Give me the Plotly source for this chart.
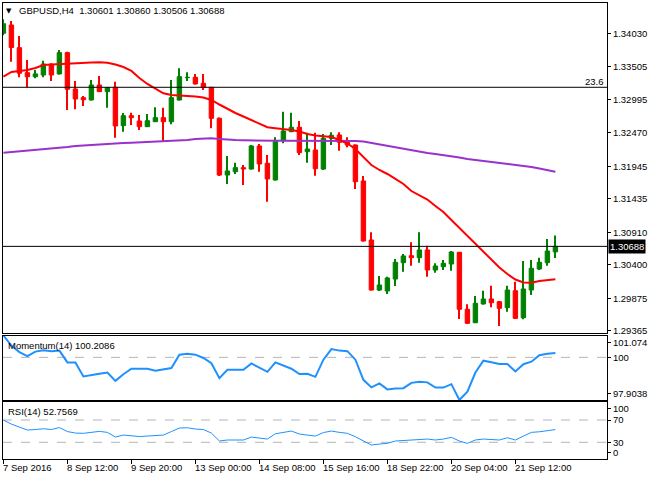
import plotly.graph_objects as go

# ---------------- data ----------------
OPEN = [1.34030, 1.34160, 1.33804, 1.33412, 1.33349, 1.33376, 1.33544, 1.33392, 1.33726, 1.33156,
        1.33020, 1.32984, 1.33219, 1.33114, 1.33183, 1.32581, 1.32737, 1.32654, 1.32565, 1.32643,
        1.32706, 1.32643, 1.32984, 1.33334, 1.33340, 1.33246, 1.33183, 1.32697, 1.31807, 1.31859,
        1.31922, 1.31901, 1.32262, 1.31991, 1.31729, 1.32356, 1.32486, 1.32556, 1.32173, 1.32199,
        1.31901, 1.32383, 1.32435, 1.32320, 1.32278, 1.31713, 1.30788, 1.30003, 1.29988, 1.30176,
        1.30432, 1.30541, 1.30510, 1.30631, 1.30317, 1.30369, 1.30411, 1.30595, 1.29701, 1.29490,
        1.29784, 1.29862, 1.29820, 1.29726, 1.29992, 1.29569, 1.30003, 1.30333, 1.30432, 1.30601]
HIGH = [1.34250, 1.34223, 1.33988, 1.33611, 1.33454, 1.33600, 1.33559, 1.33768, 1.33741, 1.33282,
        1.33046, 1.33297, 1.33360, 1.33183, 1.33271, 1.32780, 1.32785, 1.32748, 1.32764, 1.32869,
        1.32863, 1.33297, 1.33481, 1.33418, 1.33392, 1.33392, 1.33188, 1.32709, 1.32105, 1.32000,
        1.31964, 1.32278, 1.32294, 1.32121, 1.32399, 1.32800, 1.32785, 1.32654, 1.32471, 1.32471,
        1.32450, 1.32477, 1.32477, 1.32399, 1.32286, 1.31792, 1.30908, 1.30223, 1.30212, 1.30490,
        1.30568, 1.30752, 1.30908, 1.30698, 1.30422, 1.30474, 1.30615, 1.30599, 1.29779, 1.29909,
        1.29992, 1.30071, 1.29831, 1.30071, 1.30134, 1.30458, 1.30474, 1.30510, 1.30803, 1.30860]
LOW = [1.34000, 1.33585, 1.33340, 1.33183, 1.33324, 1.33340, 1.33282, 1.33384, 1.32827, 1.32838,
       1.32890, 1.32976, 1.33109, 1.32863, 1.32392, 1.32486, 1.32592, 1.32513, 1.32560, 1.32639,
       1.32341, 1.32603, 1.32976, 1.33282, 1.33227, 1.33141, 1.32540, 1.31792, 1.31666, 1.31823,
       1.31650, 1.31894, 1.31859, 1.31388, 1.31721, 1.32305, 1.32482, 1.32121, 1.32000, 1.31796,
       1.31886, 1.32278, 1.32188, 1.32242, 1.31588, 1.30764, 1.29996, 1.29988, 1.29941, 1.30066,
       1.30290, 1.30385, 1.30432, 1.30212, 1.30275, 1.30317, 1.30306, 1.29548, 1.29478, 1.29486,
       1.29776, 1.29732, 1.29439, 1.29663, 1.29548, 1.29544, 1.29925, 1.30317, 1.30385, 1.30506]
CLOSE = [1.34180, 1.33807, 1.33403, 1.33349, 1.33392, 1.33548, 1.33376, 1.33726, 1.33152, 1.32999,
         1.32988, 1.33219, 1.33114, 1.33177, 1.32576, 1.32737, 1.32706, 1.32565, 1.32659, 1.32706,
         1.32643, 1.33020, 1.33349, 1.33340, 1.33235, 1.33183, 1.32697, 1.31807, 1.31870, 1.31922,
         1.31901, 1.32262, 1.31980, 1.31745, 1.32330, 1.32497, 1.32556, 1.32157, 1.32215, 1.31906,
         1.32383, 1.32430, 1.32320, 1.32278, 1.31702, 1.30772, 1.30003, 1.30082, 1.30192, 1.30438,
         1.30537, 1.30510, 1.30631, 1.30317, 1.30380, 1.30422, 1.30599, 1.29701, 1.29481, 1.29795,
         1.29862, 1.29804, 1.29716, 1.30003, 1.29559, 1.30019, 1.30344, 1.30438, 1.30615, 1.30688]
MA_FAST = [1.33349, 1.33423, 1.33439, 1.33454, 1.33486, 1.33533, 1.33541, 1.33548, 1.33559, 1.33564,
           1.33564, 1.33572, 1.33575, 1.33569, 1.33541, 1.33501, 1.33439, 1.33329, 1.33235, 1.33156,
           1.33089, 1.33062, 1.33054, 1.33054, 1.33039, 1.33023, 1.32984, 1.32913, 1.32843, 1.32780,
           1.32725, 1.32670, 1.32607, 1.32556, 1.32540, 1.32529, 1.32513, 1.32490, 1.32450, 1.32427,
           1.32411, 1.32403, 1.32356, 1.32301, 1.32215, 1.32090, 1.31964, 1.31886, 1.31823, 1.31745,
           1.31666, 1.31556, 1.31494, 1.31423, 1.31321, 1.31227, 1.31101, 1.30976, 1.30850, 1.30733,
           1.30607, 1.30482, 1.30356, 1.30254, 1.30168, 1.30121, 1.30118, 1.30145, 1.30160, 1.30171]
MA_SLOW = [1.32157, 1.32168, 1.32176, 1.32184, 1.32199, 1.32207, 1.32215, 1.32231, 1.32246, 1.32262,
           1.32270, 1.32278, 1.32294, 1.32301, 1.32304, 1.32309, 1.32314, 1.32320, 1.32325, 1.32330,
           1.32333, 1.32341, 1.32348, 1.32356, 1.32372, 1.32380, 1.32383, 1.32372, 1.32361, 1.32356,
           1.32352, 1.32348, 1.32345, 1.32345, 1.32345, 1.32345, 1.32345, 1.32345, 1.32343, 1.32341,
           1.32341, 1.32341, 1.32341, 1.32341, 1.32341, 1.32333, 1.32309, 1.32294, 1.32270, 1.32246,
           1.32223, 1.32199, 1.32176, 1.32152, 1.32137, 1.32121, 1.32105, 1.32082, 1.32058, 1.32043,
           1.32027, 1.32011, 1.31996, 1.31980, 1.31964, 1.31948, 1.31933, 1.31909, 1.31886, 1.31859]
MOMENTUM = [101.074, 100.579, 100.257, 100.059, 100.282, 100.346, 100.306, 100.331, 99.752, 99.752,
            99.058, 99.142, 99.192, 99.256, 98.845, 99.167, 99.440, 99.440, 99.440, 99.340,
            99.415, 99.474, 100.133, 100.182, 100.133, 99.969, 99.712, 98.979, 99.390, 99.390,
            99.390, 99.702, 99.489, 99.291, 99.752, 99.613, 99.440, 99.177, 99.192, 99.043,
            99.885, 100.405, 100.331, 100.306, 99.885, 98.895, 98.523, 98.721, 98.424, 98.474,
            98.484, 98.746, 98.796, 98.771, 98.513, 98.513, 98.682, 97.9038, 98.315, 99.256,
            99.836, 99.761, 99.672, 99.672, 99.306, 99.662, 99.786, 100.108, 100.182, 100.2086]
RSI = [69.9, 62.7, 57.3, 52.0, 52.9, 54.3, 52.9, 56.5, 49.3, 46.6,
       46.1, 48.4, 49.6, 47.8, 39.4, 43.0, 42.1, 40.3, 41.2, 42.1,
       43.0, 49.3, 55.6, 56.1, 53.8, 52.9, 46.6, 32.3, 34.1, 34.1,
       34.1, 39.4, 37.6, 35.8, 45.3, 48.4, 50.2, 44.8, 43.0, 41.2,
       47.5, 50.2, 47.8, 46.1, 40.0, 32.3, 25.1, 26.9, 28.1, 32.3,
       33.2, 34.1, 34.9, 35.8, 34.1, 35.8, 38.9, 32.3, 28.1, 34.1,
       35.8, 34.9, 34.1, 38.2, 34.1, 41.2, 47.8, 48.9, 51.1, 52.7569]

TICK_INDEX = [0, 8, 16, 24, 32, 40, 48, 56, 64]
TICK_LABELS = ["7 Sep 2016", "8 Sep 12:00", "9 Sep 20:00", "13 Sep 00:00", "14 Sep 08:00",
               "15 Sep 16:00", "18 Sep 22:00", "20 Sep 04:00", "21 Sep 12:00"]
PRICE_TICKS = [1.34030, 1.33505, 1.32995, 1.32470, 1.31945, 1.31435, 1.30910, 1.30400, 1.29875, 1.29365]
FIB_236 = 1.33183
MOM_MIN, MOM_MAX = 97.9038, 101.074
MOM_LEVELS = [100]
RSI_LEVELS = [70, 30]
RSI_LABELS = [100, 70, 30, 0]
SYMBOL = "GBPUSD,H4"

# ---------------- figure ----------------
W, H = 650, 480
ML, MR, MT, MB = 3, 43, 3, 21
PW, PH = W - ML - MR, H - MT - MB


def px_x(p):
    return (p - ML) / PW


def px_y(p):
    return (H - MB - p) / PH


FONT = "Liberation Sans"
idx = list(range(len(CLOSE)))
colors = ["#008000" if c >= o else "#ff0000" for o, c in zip(OPEN, CLOSE)]

fig = go.Figure()

# wicks
fig.add_trace(go.Bar(x=idx, y=[h - l for h, l in zip(HIGH, LOW)], base=LOW, width=0.13,
                     marker=dict(color=colors, line=dict(width=0)), xaxis="x", yaxis="y",
                     hoverinfo="skip", showlegend=False))
# bodies
fig.add_trace(go.Bar(x=idx, y=[abs(c - o) for o, c in zip(OPEN, CLOSE)],
                     base=[min(o, c) for o, c in zip(OPEN, CLOSE)], width=0.55,
                     marker=dict(color=colors, line=dict(color=colors, width=1)),
                     xaxis="x", yaxis="y", showlegend=False))
fig.add_trace(go.Scatter(x=idx, y=MA_SLOW, mode="lines", line=dict(color="#9932cc", width=2),
                         xaxis="x", yaxis="y", showlegend=False))
fig.add_trace(go.Scatter(x=idx, y=MA_FAST, mode="lines", line=dict(color="#ff0000", width=2),
                         xaxis="x", yaxis="y", showlegend=False))
fig.add_trace(go.Scatter(x=idx, y=MOMENTUM, mode="lines", line=dict(color="#1e90ff", width=2),
                         xaxis="x2", yaxis="y2", showlegend=False))
fig.add_trace(go.Scatter(x=idx, y=RSI, mode="lines", line=dict(color="#1e90ff", width=1),
                         xaxis="x3", yaxis="y3", showlegend=False))

XR = [-0.05, 75.45]
axis_common = dict(showline=True, mirror=True, linecolor="black", linewidth=1,
                   showgrid=False, zeroline=False, automargin=False)
yfont = dict(family=FONT, size=9.5, color="black")

mom_span = MOM_MAX - MOM_MIN
mom_tickvals = [MOM_MAX - mom_span * 0.11, 100, MOM_MIN + mom_span * 0.10]
mom_ticktext = [f"{MOM_MAX:g}", "100", f"{MOM_MIN:g}"]
RSI_TOP = 102.9
rsi_tickvals = [90, 70, 30, 11]

fig.update_layout(
    width=W, height=H, margin=dict(l=ML, r=MR, t=MT, b=MB, pad=0),
    paper_bgcolor="white", plot_bgcolor="white", barmode="overlay", showlegend=False,
    xaxis=dict(domain=[0, 1], anchor="y", range=XR, showticklabels=False, ticks="", **axis_common),
    xaxis2=dict(domain=[0, 1], anchor="y2", range=XR, showticklabels=False, ticks="", **axis_common),
    xaxis3=dict(domain=[0, 1], anchor="y3", range=XR, showticklabels=False, ticks="outside",
                tickvals=TICK_INDEX, ticklen=4, tickcolor="black", **axis_common),
    yaxis=dict(domain=[px_y(333), 1], anchor="x", side="right", range=[1.29329, 1.34505],
               tickvals=PRICE_TICKS, ticktext=[f"{v:.5f}" for v in PRICE_TICKS],
               ticks="outside", ticklen=3, tickcolor="black", tickfont=yfont, **axis_common),
    yaxis2=dict(domain=[px_y(400), px_y(335.5)], anchor="x2", side="right", range=[MOM_MIN, MOM_MAX],
                tickvals=mom_tickvals, ticktext=mom_ticktext, ticks="outside", ticklen=3,
                tickcolor="black", tickfont=yfont, **axis_common),
    yaxis3=dict(domain=[0, px_y(401.7)], anchor="x3", side="right", range=[0, RSI_TOP],
                tickvals=rsi_tickvals, ticktext=[str(v) for v in RSI_LABELS], ticks="outside",
                ticklen=3, tickcolor="black", tickfont=yfont, **axis_common),
)

shapes = [
    dict(type="line", xref="x domain", yref="y", x0=0, x1=1, y0=CLOSE[-1], y1=CLOSE[-1],
         line=dict(color="black", width=1)),
    dict(type="line", xref="x domain", yref="y", x0=0, x1=1, y0=FIB_236, y1=FIB_236,
         line=dict(color="black", width=1)),
]
for lv in MOM_LEVELS:
    shapes.append(dict(type="line", xref="x2 domain", yref="y2", x0=0, x1=1, y0=lv, y1=lv,
                       line=dict(color="#b4b4b4", width=1, dash="dash"), layer="below"))
for lv in RSI_LEVELS:
    shapes.append(dict(type="line", xref="x3 domain", yref="y3", x0=0, x1=1, y0=lv, y1=lv,
                       line=dict(color="#b4b4b4", width=1, dash="dash"), layer="below"))
fig.update_layout(shapes=shapes)

tf = dict(family=FONT, size=9.5, color="black")
ann = [
    dict(text="▼", x=px_x(9), y=px_y(10.5), xref="paper", yref="paper", xanchor="center",
         yanchor="middle", showarrow=False, font=dict(family="DejaVu Sans", size=7, color="black")),
    dict(text=f"{SYMBOL}  {OPEN[-1]:.5f} {HIGH[-1]:.5f} {LOW[-1]:.5f} {CLOSE[-1]:.5f}",
         x=px_x(17), y=px_y(10.5), xref="paper", yref="paper", xanchor="left", yanchor="middle",
         showarrow=False, font=tf),
    dict(text="23.6", x=px_x(606), y=px_y(81.5), xref="paper", yref="paper", xanchor="right",
         yanchor="middle", showarrow=False, font=tf),
    dict(text=f"Momentum(14) {MOMENTUM[-1]:.4f}", x=px_x(6), y=px_y(345), xref="paper",
         yref="paper", xanchor="left", yanchor="middle", showarrow=False, font=tf),
    dict(text=f"RSI(14) {RSI[-1]:.4f}", x=px_x(6), y=px_y(411.5), xref="paper", yref="paper",
         xanchor="left", yanchor="middle", showarrow=False, font=tf),
    dict(text=f"{CLOSE[-1]:.5f}", x=px_x(608), y=CLOSE[-1], xref="paper", yref="y",
         xanchor="left", yanchor="middle", showarrow=False, bgcolor="black", borderpad=1,
         font=dict(family=FONT, size=9.5, color="white")),
]
for i, lab in zip(TICK_INDEX, TICK_LABELS):
    ann.append(dict(text=lab, x=i, y=px_y(468), xref="x3", yref="paper", xanchor="left",
                    yanchor="middle", xshift=-2, showarrow=False, font=tf))
fig.update_layout(annotations=ann)

fig.write_html("out.html", config={"displayModeBar": False},
               post_script="document.body.style.margin='0px';document.body.style.overflow='hidden';")
